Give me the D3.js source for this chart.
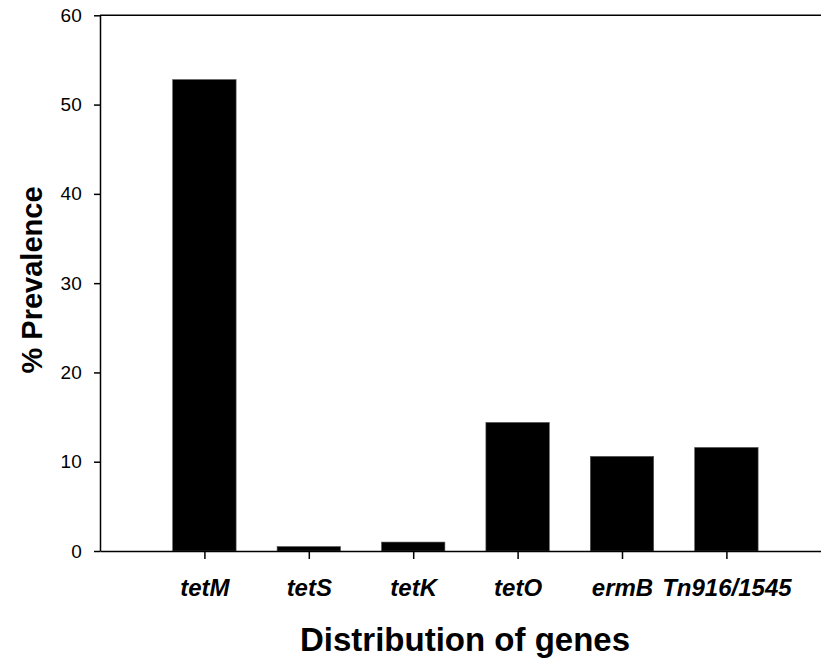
<!DOCTYPE html>
<html>
<head>
<meta charset="utf-8">
<script src="https://cdn.jsdelivr.net/npm/d3@7"></script>
<style>
  html, body { margin: 0; padding: 0; background: #fff; }
  svg { display: block; }
  text { font-family: "Liberation Sans", Arial, sans-serif; fill: #000; }
</style>
</head>
<body>
<div id="chart"></div>
<script>
// Gene prevalence data
const genes = ["tetM", "tetS", "tetK", "tetO", "ermB", "Tn916/1545"];
const prevalence = [52.8, 0.5, 1.0, 14.4, 10.6, 11.6];
const yTicks = [0, 10, 20, 30, 40, 50, 60];

const width = 821, height = 662;
const plotLeft = 100, plotTop = 15.3, plotBottom = 551;

const svg = d3.select("#chart").append("svg")
  .attr("width", width).attr("height", height);

const y = d3.scaleLinear().domain([0, 60]).range([plotBottom, plotTop]);
const x = d3.scalePoint().domain(genes).range([plotLeft, 830.8]).padding(1);
const barW = 63.4;

// Bars
svg.append("g").selectAll("rect")
  .data(genes.map((g, i) => ({ g, v: prevalence[i] })))
  .join("rect")
  .attr("x", d => x(d.g) - barW / 2)
  .attr("width", barW)
  .attr("y", d => y(d.v))
  .attr("height", d => y(0) - y(d.v))
  .attr("fill", "#000")
  .attr("stroke", "#555")
  .attr("stroke-width", 0.6);

// Top frame line
svg.append("line")
  .attr("x1", plotLeft).attr("x2", width)
  .attr("y1", y(60)).attr("y2", y(60))
  .attr("stroke", "#000").attr("stroke-width", 1.5);

// Y axis
const yAxis = svg.append("g")
  .attr("transform", `translate(${plotLeft},0)`)
  .call(d3.axisLeft(y).tickValues(yTicks).tickSize(6).tickSizeOuter(0).tickPadding(12.3));
yAxis.selectAll("path, line").attr("stroke", "#000").attr("stroke-width", 1.5);
yAxis.selectAll("text")
  .style("font-family", "'Liberation Sans', Arial, sans-serif")
  .style("font-size", "19px")
  .attr("fill", "#000");

// X axis
const xAxis = svg.append("g")
  .attr("transform", `translate(0,${plotBottom})`)
  .call(d3.axisBottom(x).tickSize(8).tickSizeOuter(0));
xAxis.selectAll("path, line").attr("stroke", "#000").attr("stroke-width", 1.5);
xAxis.selectAll("text")
  .attr("y", 45).attr("dy", 0)
  .style("font-family", "'Liberation Sans', Arial, sans-serif")
  .style("font-size", "24px")
  .style("font-weight", "bold")
  .style("font-style", "italic")
  .attr("fill", "#000");

// Axis titles
svg.append("text")
  .attr("x", 465).attr("y", 651)
  .attr("text-anchor", "middle")
  .style("font-size", "33px").style("font-weight", "bold")
  .text("Distribution of genes");

svg.append("text")
  .attr("transform", "translate(42,280) rotate(-90)")
  .attr("text-anchor", "middle")
  .style("font-size", "29px").style("font-weight", "bold")
  .text("% Prevalence");
</script>
</body>
</html>
